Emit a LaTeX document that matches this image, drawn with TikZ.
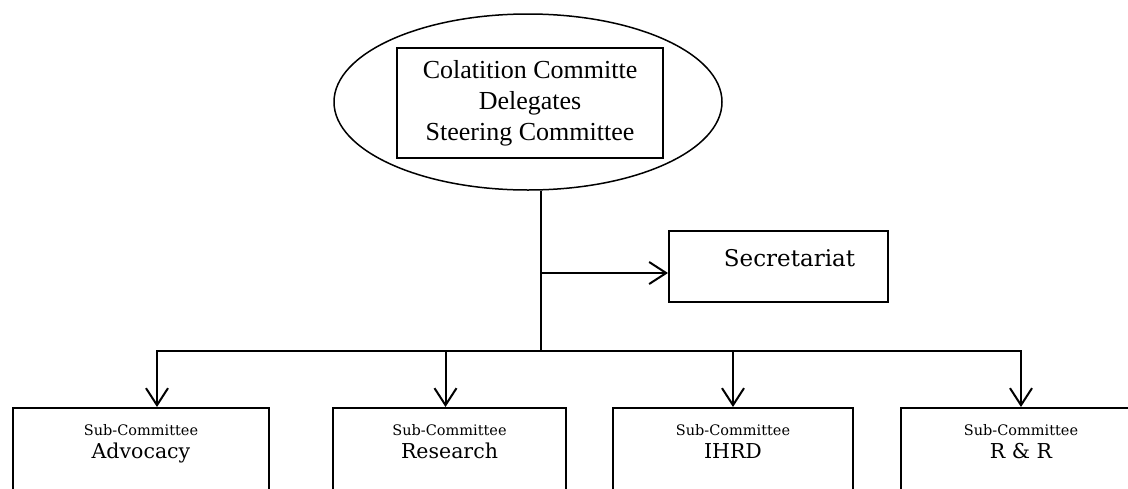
\documentclass[tikz,border=0pt]{standalone}
\usepackage{fontspec}
\setmainfont{Liberation Serif}
\newfontfamily\slabfont{DejaVu Serif}
\usepackage{tikz}
\usetikzlibrary{arrows.meta, shapes.geometric}

\newcommand{\subname}[1]{{\fontsize{14.5}{16}\selectfont Sub-Committee}\\#1}

\begin{document}
\begin{tikzpicture}[
    x=1pt, y=-1pt,
    line/.style={line width=2pt},
    arrow/.style={
        line width=2pt,
        -{Straight Barb[length=17pt, width=22pt, line width=2pt]}
    },
    oval/.style={
        draw,
        ellipse,
        line width=1.5pt,
        minimum width=388pt,
        minimum height=176pt,
        inner sep=0pt
    },
    box/.style={
        draw,
        line width=2pt,
        align=center,
        inner sep=0pt
    },
    subbox/.style={
        draw,
        line width=2pt,
        anchor=north,
        minimum height=110pt,
        inner sep=0pt
    },
    subtext/.style={
        anchor=north,
        align=center,
        yshift=-14pt,
        font=\slabfont\fontsize{20.5}{23}\selectfont
    },
    secrtext/.style={
        xshift=11pt,
        yshift=8pt,
        font=\slabfont\fontsize{23}{26}\selectfont
    }
]

\clip (0,0) rectangle (1128,488);

% top of the structure
\node[oval] (coal) at (528,102) {};
\node[box, minimum width=266pt, minimum height=110pt,
      font=\fontsize{26}{31}\selectfont] (core) at (530,103)
      {Colatition Committe\\Delegates\\Steering Committee};

\node[box, minimum width=219pt, minimum height=71pt,
      label={[secrtext]center:Secretariat}] (secr) at (778.5,266.5) {};

% sub-committees
\node[subbox, minimum width=256pt, label={[subtext]north:\subname{Advocacy}}] (adv) at (141,407) {};
\node[subbox, minimum width=233pt, label={[subtext]north:\subname{Research}}] (res) at (449.5,407) {};
\node[subbox, minimum width=240pt, label={[subtext]north:\subname{IHRD}}] (ihrd) at (733,407) {};
\node[subbox, minimum width=240pt, label={[subtext]north:\subname{R \& R}}] (rr) at (1021,407) {};

\coordinate (tap) at (541,273);
\coordinate (bus) at (541,351);

\draw[line] (bus |- coal.south) -- (bus);
\draw[arrow] (tap) -- (tap -| secr.west);
\draw[arrow] (bus) -| ([xshift=16pt]adv.north);
\draw[arrow] (bus) -| ([xshift=-4pt]res.north);
\draw[arrow] (bus) -| (ihrd.north);
\draw[arrow] (bus) -| (rr.north);

\end{tikzpicture}
\end{document}
